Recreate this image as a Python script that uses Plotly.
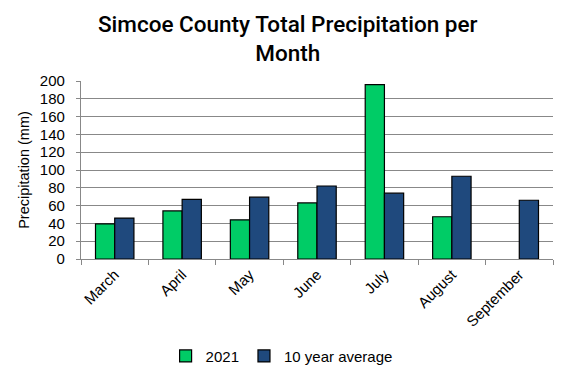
import plotly.graph_objects as go

months = ["March", "April", "May", "June", "July", "August", "September"]
y2021 = [39.5, 54, 44, 63, 196, 47.5, None]
avg10 = [46, 67, 69.5, 82, 74, 93, 66]
yticks = list(range(0, 201, 20))

FONT = "Liberation Sans, Arial, sans-serif"

fig = go.Figure()
fig.add_bar(x=months, y=y2021, name="2021",
            marker=dict(color="#00CC66", line=dict(color="black", width=1.2)))
fig.add_bar(x=months, y=avg10, name="10 year average",
            marker=dict(color="#1F497D", line=dict(color="black", width=1.2)))

fig.update_layout(
    width=568, height=378,
    margin=dict(l=81, r=15, t=81, b=119, autoexpand=False),
    paper_bgcolor="white", plot_bgcolor="white",
    barmode="group", bargap=0.43, bargroupgap=0,
    font=dict(family=FONT, size=15, color="black"),
    legend=dict(orientation="h", x=0.425, xanchor="center", y=-0.453, yanchor="top",
                font=dict(size=15), itemwidth=30, traceorder="normal"),
    showlegend=True,
    annotations=[dict(
        text="Simcoe County Total Precipitation per<br>Month",
        xref="paper", yref="paper", x=0.4386, y=1.405, xanchor="center", yanchor="top",
        showarrow=False,
        font=dict(family="Roboto, Liberation Sans, sans-serif", size=22.5, color="black", weight=500),
    )],
)
fig.update_xaxes(showline=True, linecolor="#888888", linewidth=1.2, automargin=False,
                 ticks="outside", ticklen=5, tickcolor="#888888", tickson="boundaries",
                 tickangle=-45, tickfont=dict(size=15))
fig.update_yaxes(range=[0, 200], tickvals=yticks, showgrid=True, gridcolor="#888888", gridwidth=1,
                 showline=True, linecolor="#888888", linewidth=1.2, automargin=False,
                 ticks="outside", ticklen=4, tickcolor="#888888", ticklabelstandoff=8,
                 title=dict(text="Precipitation (mm)", font=dict(size=14.5), standoff=6),
                 tickfont=dict(size=15), zeroline=False)

fig.write_html("out.html", config={"displayModeBar": False},
               post_script="document.body.style.margin='0';")
